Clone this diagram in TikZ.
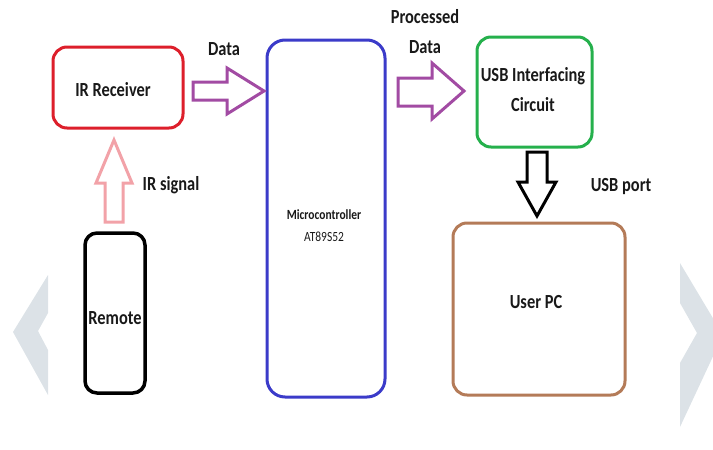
\documentclass[tikz,border=0pt]{standalone}
\usepackage{fontspec}
\setmainfont{Carlito}[FakeStretch=0.82]
\begin{document}
\begin{tikzpicture}[x=1pt,y=-1pt,
  box/.style={draw, line width=3pt, rounded corners=14pt, inner sep=0pt},
  lbl/.style={font=\bfseries\fontsize{20}{30}\selectfont, text=black!90, inner sep=0pt, align=center},
  small/.style={font=\bfseries\fontsize{14}{22}\selectfont, text=black!90, inner sep=0pt, align=center},
  barrow/.style={line width=3pt, line join=miter, fill=white}
]
\definecolor{cred}{HTML}{DD1F2B}
\definecolor{cpurple}{HTML}{A24BA3}
\definecolor{cblue}{HTML}{3B3BC9}
\definecolor{cgreen}{HTML}{25B04C}
\definecolor{cbrown}{HTML}{B47B58}
\definecolor{cpink}{HTML}{F2A2A8}
\definecolor{cgray}{HTML}{DCE2E7}
\useasboundingbox (0,0) rectangle (713,450);
\clip (0,0) rectangle (713,450);

% background chevrons
\fill[cgray] (48,275) -- (13,332) -- (48,395) -- (48,350) -- (38,331) -- (48,313) -- cycle;
\fill[cgray] (680,263) -- (723,335) -- (680,427) -- (680,363) -- (697,333) -- (680,303) -- cycle;

% boxes
\node[box, draw=cred, minimum width=130pt, minimum height=81pt] (recv) at (118,87.5) {};
\node[lbl] (recvt) at (113,90) {IR Receiver};
\node[box, draw=cblue, rounded corners=18pt, minimum width=118pt, minimum height=357pt] (mcu) at (326,218.5) {};
\node[small] (mcut) at (324,226) {Microcontroller\\\mdseries AT89S52};
\node[box, draw=cgreen, minimum width=115pt, minimum height=110pt] (usb) at (534.5,92) {};
\node[lbl] (usbt) at (533,90) {USB Interfacing\\Circuit};
\node[box, draw=black, line width=3.5pt, rounded corners=12pt, minimum width=60pt, minimum height=160pt] (remote) at (115,313) {};
\node[lbl] (remotet) at (115,318) {Remote};
\node[box, draw=cbrown, minimum width=172pt, minimum height=172pt] (pc) at (539,309) {};
\node[lbl] (pct) at (536,302) {User PC};

% block arrows
\draw[barrow, draw=cpurple] (193,82) -- (227,82) -- (227,68) -- (264,91) -- (227,114) -- (227,100) -- (193,100) -- cycle;
\draw[barrow, draw=cpurple] (398,78) -- (432,78) -- (432,63) -- (464,91) -- (432,119) -- (432,106) -- (398,106) -- cycle;
\draw[barrow, draw=cpink] (105,222) -- (105,183) -- (96,183) -- (114,140) -- (132,183) -- (123,183) -- (123,222) -- cycle;
\draw[barrow, draw=black] (527,152) -- (547,152) -- (547,182) -- (556,182) -- (537,216) -- (518,182) -- (527,182) -- cycle;

% arrow labels
\node[lbl] (datal) at (224,49) {Data};
\node[lbl] (irl) at (171,185) {IR signal};
\node[lbl] (procl) at (425,32) {Processed\\Data};
\node[lbl] (usbl) at (621,187) {USB port};
\end{tikzpicture}
\end{document}
